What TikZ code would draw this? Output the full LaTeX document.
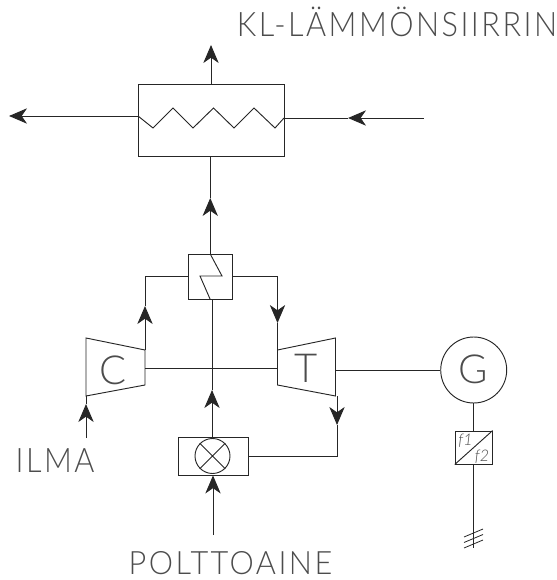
\documentclass[tikz,border=0pt]{standalone}
\usepackage{fontspec}
\usepackage{graphicx}
\setmainfont{Lato Light}
\usetikzlibrary{arrows.meta,calc}
\definecolor{ln}{gray}{0.15}
\definecolor{tx}{gray}{0.3}
\tikzset{
  line/.style={draw=ln,line width=0.7pt},
  flow/.style={line,-{Stealth[length=13.5pt,width=11.5pt,inset=4pt]}},
  big/.style={text=tx,font=\fontsize{23pt}{23pt}\selectfont\addfontfeature{LetterSpace=8},inner sep=0pt,anchor=center},
  mach/.style={text=tx,font=\fontsize{30pt}{30pt}\selectfont,inner sep=0pt,anchor=center}
}
\begin{document}
\begin{tikzpicture}[x=0.75pt,y=-0.75pt]
\useasboundingbox (0,0) rectangle (556,580);
% labels
\node[big] (lkl) at (397,22) {\scalebox{1}[1.1]{KL-LÄMMÖNSIIRRIN}};
\node[big] (lair) at (55,460.5) {\scalebox{1}[1.1]{ILMA}};
\node[big] (lfuel) at (230.5,563) {\scalebox{1}[1.05]{POLTTOAINE}};
% heat exchanger
\node[line,rectangle,minimum width=109.5pt,minimum height=53.6pt,inner sep=0pt] (hx) at (211,120.25) {};
\draw[line] (138,116) coordinate (hxl) -- (153,128) -- (173,108) -- (193,128) -- (213.5,108) -- (234,128) -- (254,108) -- (275,128) -- (284,118) coordinate (hxr);
\coordinate (t1) at (211,45);
\draw[flow] (hx.north) -- (t1);
\coordinate (t2) at (9,116);
\draw[flow] (hxl) -- (t2);
\coordinate (inR) at (423.5,118);
\coordinate (t3) at (348,118);
\draw[flow] (inR) -- (t3);
\draw[line] (t3) -- (hxr);
% recuperator
\node[line,rectangle,minimum width=33.4pt,minimum height=33.4pt,inner sep=0pt] (rc) at (210.25,276.75) {};
\draw[line] (rc.north) -- (222,276) -- (200,276) -- (rc.south);
\coordinate (t4) at (210.25,198);
\draw[flow] (rc.north) -- (t4);
\draw[line] (t4) -- (t4 |- hx.south);
% compressor and turbine
\draw[line] (86,338) coordinate (c1) -- (145,350) coordinate (c2) -- (145,385) coordinate (c3) -- (86,396) coordinate (c4) -- cycle;
\draw[line] (277.5,350) coordinate (d1) -- (335.5,338) coordinate (d2) -- (335.5,396) coordinate (d3) -- (277.5,385) coordinate (d4) -- cycle;
\node[mach] (C) at (113,370) {C};
\node[mach] (T) at (306,368) {T};
\draw[line] (145,368) coordinate (s1) -- (277.5,368) coordinate (s2);
% compressor to recuperator
\coordinate (t5) at (145,306);
\draw[flow] (c2) -- (t5);
\draw[line] (t5) |- (rc.west);
% recuperator to turbine
\coordinate (t6) at (277.5,323);
\draw[flow] (rc.east) -| (t6);
\draw[line] (t6) -- (d1);
% air
\coordinate (air) at (86,438);
\coordinate (t7) at (86,404);
\draw[flow] (air) -- (t7);
\draw[line] (t7) -- (c4);
% combustor
\node[line,rectangle,minimum width=52.5pt,minimum height=28.5pt,inner sep=0pt] (cb) at (213,456) {};
\node[line,circle,minimum size=26.25pt,inner sep=0pt] (fl) at (212.5,456) {};
\draw[line] (fl.45) -- (fl.225) (fl.135) -- (fl.315);
\coordinate (t8) at (212,390);
\draw[flow] (t8 |- cb.north) -- (t8);
\draw[line] (t8) -- (t8 |- rc.south);
\coordinate (fuel) at (213,535);
\draw[flow] (fuel) -- (cb.south);
% exhaust to combustor
\coordinate (t9) at (337,425);
\draw[flow] (337,396) -- (t9);
\draw[line] (t9) |- (cb.east);
% generator
\node[line,circle,minimum size=49.5pt,inner sep=0pt] (g) at (473.7,370) {};
\node[mach] (G) at (473.5,369) {G};
\draw[line] (d2 |- g) -- (g.west);
\node[line,rectangle,minimum width=27.75pt,minimum height=24.75pt,inner sep=0pt] (fc) at (473.7,447.5) {};
\draw[line] (fc.south west) -- (fc.north east);
\node[text=tx,font=\fontsize{12pt}{12pt}\selectfont\itshape,inner sep=0pt] (f1) at (465.5,440.5) {f1};
\node[text=tx,font=\fontsize{12pt}{12pt}\selectfont\itshape,inner sep=0pt] (f2) at (482,457) {f2};
\draw[line] (g.south) -- (fc.north);
\coordinate (gridend) at (473.7,548);
\draw[line] (fc.south) -- (gridend);
\coordinate (a1) at (464,538); \coordinate (a2) at (483,530);
\foreach \o in {-0.5,5,10.5}{
  \draw[draw=ln,line width=0.6pt] ($(a1)+(0,\o-0.5)$) -- ($(a2)+(0,\o-0.5)$);
}
\end{tikzpicture}
\end{document}
